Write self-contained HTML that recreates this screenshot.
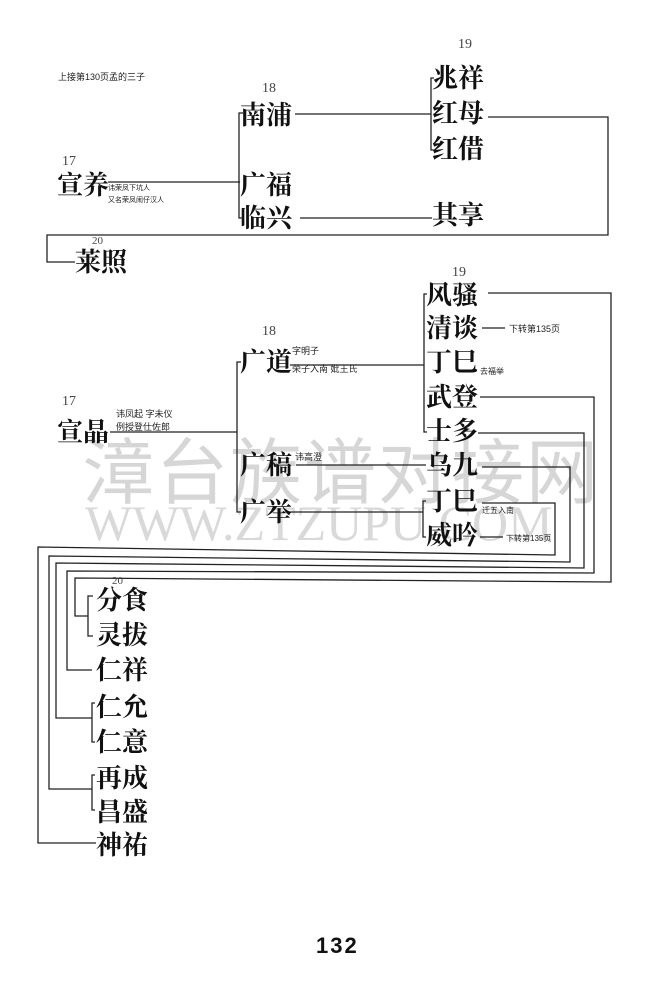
<!DOCTYPE html>
<html><head><meta charset="utf-8"><style>
html,body{margin:0;padding:0;background:#fff;}
svg{display:block;}
.n{font-family:"Liberation Serif","Noto Serif CJK SC",serif;font-size:26px;fill:#111;font-weight:bold;}
.s{font-family:"Liberation Sans","Noto Sans CJK SC",sans-serif;font-size:9px;fill:#222;}
.g{font-family:"Liberation Serif",serif;font-size:14px;fill:#444;}
line,polyline{stroke:#222;stroke-width:1.3;fill:none;}
</style></head><body>
<svg width="655" height="1000" viewBox="0 0 655 1000" xmlns="http://www.w3.org/2000/svg">
<rect width="655" height="1000" fill="#fff"/>
<!-- watermark -->
<text x="82" y="498" style="font-family:'Noto Sans CJK SC',sans-serif;font-size:72px;fill:#d6d6d6;letter-spacing:2px">漳台族谱对接网</text>
<text x="85" y="540" style="font-family:'Liberation Serif',serif;font-size:50px;fill:#d9d9d9;">WWW.ZTZUPU.COM</text>

<text x="58" y="80" class="s">上接第130页孟的三子</text>
<text x="458" y="48" class="g">19</text>
<text x="262" y="92" class="g">18</text>
<text x="62" y="165" class="g">17</text>

<text x="240" y="124" class="n">南浦</text>
<text x="240" y="194" class="n">广福</text>
<text x="240" y="227" class="n">临兴</text>
<text x="57" y="194" class="n">宣养</text>
<text x="108" y="190" class="s" style="font-size:7px">讳荣凤下坑人</text>
<text x="108" y="202" class="s" style="font-size:7px">又名荣凤闹仔汉人</text>
<text x="432" y="87" class="n">兆祥</text>
<text x="432" y="122" class="n">红母</text>
<text x="432" y="158" class="n">红借</text>
<text x="432" y="224" class="n">其享</text>
<text x="75" y="271" class="n">莱照</text>
<text x="92" y="244" class="g" style="font-size:11px">20</text>

<line x1="108" y1="182" x2="240" y2="182"/>
<polyline points="243,113 239,113 239,218 243,218"/>
<line x1="295" y1="114" x2="431" y2="114"/>
<polyline points="434,78 431,78 431,150 434,150"/>
<line x1="300" y1="218" x2="432" y2="218"/>
<polyline points="488,117 608,117 608,235 47,235 47,262 75,262"/>

<!-- second section -->
<text x="452" y="276" class="g">19</text>
<text x="262" y="335" class="g">18</text>
<text x="62" y="405" class="g">17</text>
<text x="426" y="304" class="n">风骚</text>
<text x="426" y="337" class="n">清谈</text>
<text x="426" y="371" class="n">丁巳</text>
<text x="426" y="406" class="n">武登</text>
<text x="426" y="440" class="n">士多</text>
<text x="426" y="474" class="n">乌九</text>
<text x="426" y="510" class="n">丁巳</text>
<text x="426" y="544" class="n">威吟</text>
<text x="240" y="371" class="n">广道</text>
<text x="240" y="474" class="n">广稿</text>
<text x="240" y="521" class="n">广举</text>
<text x="57" y="441" class="n">宣晶</text>
<text x="116" y="417" class="s">讳凤起 字未仪</text>
<text x="116" y="430" class="s">例授登仕佐郎</text>
<text x="292" y="354" class="s">字明子</text>
<text x="292" y="372" class="s">荣子入南 妣王氏</text>
<text x="295" y="460" class="s">讳高澄</text>
<text x="509" y="332" class="s">下转第135页</text>
<text x="480" y="374" class="s" style="font-size:8px">去福举</text>
<text x="482" y="513" class="s" style="font-size:8px">迁五入南</text>
<text x="506" y="541" class="s" style="font-size:8px">下转第135页</text>

<line x1="110" y1="432" x2="237" y2="432"/>
<polyline points="241,362 237,362 237,512 241,512"/>
<line x1="290" y1="365" x2="424" y2="365"/>
<polyline points="427,294 424,294 424,432 427,432"/>
<line x1="296" y1="465" x2="426" y2="465"/>
<line x1="290" y1="512" x2="423" y2="512"/>
<polyline points="426,501 423,501 423,537 426,537"/>
<line x1="482" y1="328" x2="505" y2="328"/>
<line x1="480" y1="537" x2="503" y2="537"/>

<!-- nested connectors -->
<polyline points="482,503 555,503 555,555 38,547 38,843 96,843"/>
<polyline points="482,467 570,467 570,562 49,556 49,789 92,789"/>
<polyline points="478,433 584,433 584,568 56,563 56,718 92,718"/>
<polyline points="480,397 594,397 594,573 67,571 67,670 92,670"/>
<polyline points="488,293 611,293 611,582 75,578 75,616 88,616"/>
<polyline points="93,596 88,596 88,636 93,636"/>
<polyline points="95,703 92,703 92,742 95,742"/>
<polyline points="95,775 92,775 92,810 95,810"/>

<text x="112" y="584" class="g" style="font-size:11px">20</text>
<text x="96" y="609" class="n">分食</text>
<text x="96" y="644" class="n">灵拔</text>
<text x="96" y="679" class="n">仁祥</text>
<text x="96" y="716" class="n">仁允</text>
<text x="96" y="751" class="n">仁意</text>
<text x="96" y="787" class="n">再成</text>
<text x="96" y="821" class="n">昌盛</text>
<text x="96" y="854" class="n">神祐</text>

<text x="316" y="953" style="font-family:'Liberation Sans',sans-serif;font-size:22px;font-weight:bold;fill:#111;letter-spacing:2px">132</text>
</svg>
</body></html>
